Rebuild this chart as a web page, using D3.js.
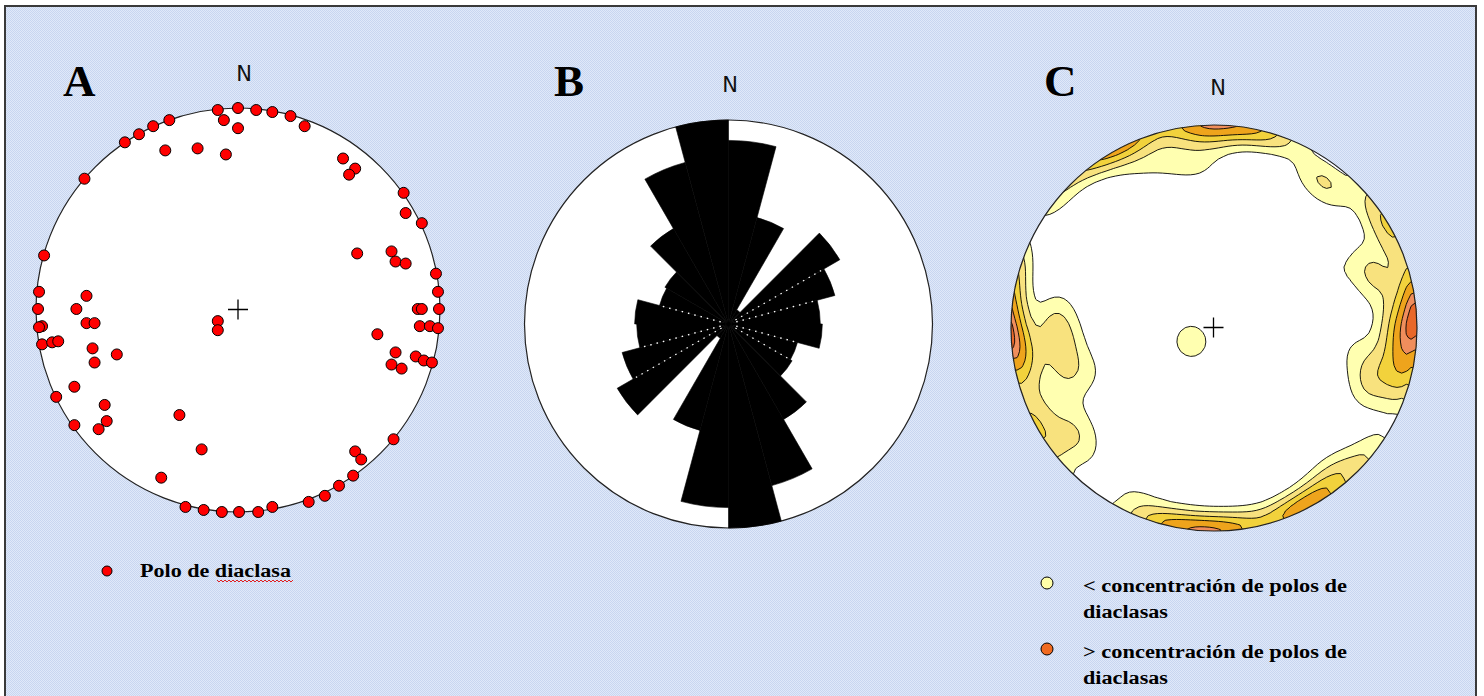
<!DOCTYPE html>
<html><head><meta charset="utf-8">
<script src="https://cdn.jsdelivr.net/npm/d3@7"></script>
<style>html,body{margin:0;padding:0;background:#fff;overflow:hidden}</style>
</head><body>
<svg id="chart" width="1484" height="696"></svg>
<script>
// ---- DATA ----
// Poles of joints (panel A), equal-area net coordinates, % of primitive radius (east, north)
const poleEast  = [-10,0,9,17,26,-7,0,33,-34,-42,-49,-56,-36,-20,-6,52,58,55,-76,82,83,91,59,76,78,83,-96,98,-98.5,-75,99,-99,-80,89,91,99.5,-10,-10,-97,-98.5,-75,-71,90,95,99,-97,-92,-89,69,-72,-60,-71,78,88,92,96,76,81,-81,-90,-66,-29,-65,-69,-81,-18,77,58,61,-38,57,50,43,35,-26,-17,-8,0.5,10,17];
const poleNorth = [99,100,99,98,96,94,90,91,94,91,87,83,79,80,77,75,70,67,65,58,48,43,28,29,24,23,27,18,9,7,9,0.5,0.5,0.5,0.5,0.5,-5.5,-10,-8,-8.5,-6.5,-6.5,-8,-8,-9,-17,-16,-15.5,-12,-19,-22,-26,-21,-23,-25,-26,-27,-29,-38,-43,-47,-52,-55,-59,-57,-69,-64,-70,-74,-83,-82,-87,-92,-95,-97.5,-99,-100,-100,-100,-97.5];
// Rose diagram (panel B): 15 deg bins of strike, relative frequency (bidirectional)
const roseBinStart = [0,15,30,45,60,75,90,105,120,135,150,165];
const roseFreq     = [9.0,5.4,0.8,6.3,5.4,4.5,4.6,3.5,3.6,5.4,8.2,10.0];
const roseMax = 10;
// Density contours (panel C)
const contourLevels = [1.35,2.6,4.0,5.4,6.8,7.8];
const contourColors = ["#ffffb0","#f8e27e","#f2d23c","#eea41c","#f08e5c","#e8682a"];
const panelLetters = ["A","B","C"];
const legendA = ["Polo de diaclasa"];
const legendC = [["< concentración de polos de","diaclasas"],["> concentración de polos de","diaclasas"]];

// ---- DRAW ----
const svg = d3.select("#chart");
const defs = svg.append("defs");
const pat = defs.append("pattern").attr("id","bgpat").attr("width",2).attr("height",2).attr("patternUnits","userSpaceOnUse");
pat.append("rect").attr("width",2).attr("height",2).attr("fill","#e0e9f9");
pat.append("rect").attr("x",0).attr("y",0).attr("width",1).attr("height",1).attr("fill","#c8d6f0");
pat.append("rect").attr("x",1).attr("y",1).attr("width",1).attr("height",1).attr("fill","#c8d6f0");
svg.append("rect").attr("x",5).attr("y",6).attr("width",1471).attr("height",700)
  .attr("fill","url(#bgpat)").attr("stroke","#3a3a3a").attr("stroke-width",2);

const panels = [{cx:238,cy:310,R:202,lx:63,ly:96,nx:244,ny:81},
                {cx:728.5,cy:324,R:204,lx:554,ly:96,nx:730,ny:92},
                {cx:1214,cy:328,R:203,lx:1044,ly:96,nx:1218,ny:95}];
panels.forEach((p,i)=>{
  svg.append("text").attr("x",p.lx).attr("y",p.ly).text(panelLetters[i])
    .attr("font-family","Liberation Serif, serif").attr("font-weight","bold").attr("font-size",45).attr("fill","#000");
  svg.append("text").attr("x",p.nx).attr("y",p.ny).attr("text-anchor","middle").text("N")
    .attr("font-family","DejaVu Sans, sans-serif").attr("font-size",21).attr("fill","#111");
});
function cross(g,cx,cy){
  g.append("path").attr("d",`M${cx-10},${cy}H${cx+10}M${cx},${cy-10}V${cy+10}`).attr("stroke","#000").attr("stroke-width",1.3);
}
function legendText(g,x,y,t,len){
  g.append("text").attr("x",x).attr("y",y).text(t).attr("textLength",len).attr("lengthAdjust","spacingAndGlyphs")
    .attr("font-family","Liberation Serif, serif").attr("font-weight","bold").attr("font-size",18).attr("fill","#000");
}

// Panel A
{
  const p = panels[0];
  const g = svg.append("g");
  const x = d3.scaleLinear([-100,100],[p.cx-p.R,p.cx+p.R]);
  const y = d3.scaleLinear([-100,100],[p.cy+p.R,p.cy-p.R]);
  g.append("circle").attr("cx",p.cx).attr("cy",p.cy).attr("r",p.R).attr("fill","#fff").attr("stroke","#222").attr("stroke-width",1.2);
  cross(g,p.cx,p.cy-0.5);
  g.selectAll("circle.pole").data(d3.range(poleEast.length)).join("circle").attr("class","pole")
    .attr("cx",i=>x(poleEast[i])).attr("cy",i=>y(poleNorth[i])).attr("r",5.5)
    .attr("fill","#ff0000").attr("stroke","#000").attr("stroke-width",1);
  // legend
  g.append("circle").attr("cx",107).attr("cy",571).attr("r",5).attr("fill","#ff0000").attr("stroke","#000");
  legendText(g,140,577,legendA[0],151);
  let d="M217,580"; for(let xx=217;xx<290;xx+=4){ d+=`L${xx+2},582L${xx+4},580`; }
  g.append("path").attr("d",d).attr("fill","none").attr("stroke","#e02020").attr("stroke-width",1);
}

// Panel B
{
  const p = panels[1];
  const g = svg.append("g").attr("transform",`translate(${p.cx},${p.cy})`);
  g.append("circle").attr("r",p.R).attr("fill","#fff").attr("stroke","#222").attr("stroke-width",1.2);
  const r = d3.scaleLinear([0,roseMax],[0,p.R]);
  const sectors = [];
  roseBinStart.forEach((a,i)=>{ sectors.push({a,v:roseFreq[i]}); sectors.push({a:a+180,v:roseFreq[i]}); });
  const arc = d3.arc().innerRadius(0);
  g.selectAll("path.sec").data(sectors).join("path").attr("class","sec")
    .attr("d",s=>arc({outerRadius:r(s.v),startAngle:s.a*Math.PI/180,endAngle:(s.a+15)*Math.PI/180}))
    .attr("fill","#000").attr("stroke","#000").attr("stroke-width",0.6);
  const dotted = [60,75,105,120,240,255,285];
  const val = a => roseFreq[roseBinStart.indexOf(((a%180)+180)%180)];
  dotted.forEach(a=>{
    const len = Math.min(val(a), val(a-15));
    const t = a*Math.PI/180;
    g.append("line").attr("x1",Math.sin(t)*8).attr("y1",-Math.cos(t)*8)
      .attr("x2",Math.sin(t)*r(len)*0.97).attr("y2",-Math.cos(t)*r(len)*0.97)
      .attr("stroke","#fff").attr("stroke-width",1.4).attr("stroke-dasharray","1.5,5");
  });
}

// Panel C - density of poles (axial Fisher kernel on lower hemisphere)
{
  const p = panels[2];
  const g = svg.append("g");
  defs.append("clipPath").attr("id","clipC").append("circle").attr("cx",p.cx).attr("cy",p.cy).attr("r",p.R);
  g.append("circle").attr("cx",p.cx).attr("cy",p.cy).attr("r",p.R).attr("fill","#fff");
  function toVec(x,y){ let rr=Math.hypot(x,y); if(rr>1){x/=rr;y/=rr;rr=1;} if(rr<1e-9) return [0,0,1];
    const th=2*Math.asin(rr/Math.SQRT2); const s=Math.sin(th)/rr; return [x*s,y*s,Math.cos(th)]; }
  const vecs = poleEast.map((e,i)=>toVec(e/100,poleNorth[i]/100));
  const n=90, ext=1.04, step=2*ext/n, k=70;
  const values = new Float64Array(n*n);
  for(let j=0;j<n;j++) for(let i=0;i<n;i++){
    const v = toVec(-ext+(i+0.5)*step, ext-(j+0.5)*step);
    let s=0; for(const u of vecs){ const dt=Math.abs(v[0]*u[0]+v[1]*u[1]+v[2]*u[2]); s+=Math.exp(k*(dt-1)); }
    values[j*n+i]=s;
  }
  const conts = d3.contours().size([n,n]).thresholds(contourLevels)(values);
  const path = d3.geoPath(d3.geoIdentity().scale(step*p.R).translate([p.cx-(ext+0.5*step)*p.R, p.cy-(ext+0.5*step)*p.R]));
  g.append("g").attr("clip-path","url(#clipC)").selectAll("path").data(conts).join("path")
    .attr("d",path).attr("fill",(d,i)=>contourColors[i]).attr("stroke","#000").attr("stroke-width",0.9);
  g.append("circle").attr("cx",p.cx).attr("cy",p.cy).attr("r",p.R).attr("fill","none").attr("stroke","#222").attr("stroke-width",1.2);
  cross(g,1213.5,327.5);
  // legend
  const lc = ["#ffffa8","#f06a20"];
  legendC.forEach((lines,i)=>{
    const y0 = 592 + i*66;
    g.append("circle").attr("cx",1047).attr("cy",y0-9).attr("r",6).attr("fill",lc[i]).attr("stroke","#000");
    lines.forEach((t,j)=> legendText(g,1083,y0+j*26,t,j===0?264:85));
  });
}
</script>
</body></html>
